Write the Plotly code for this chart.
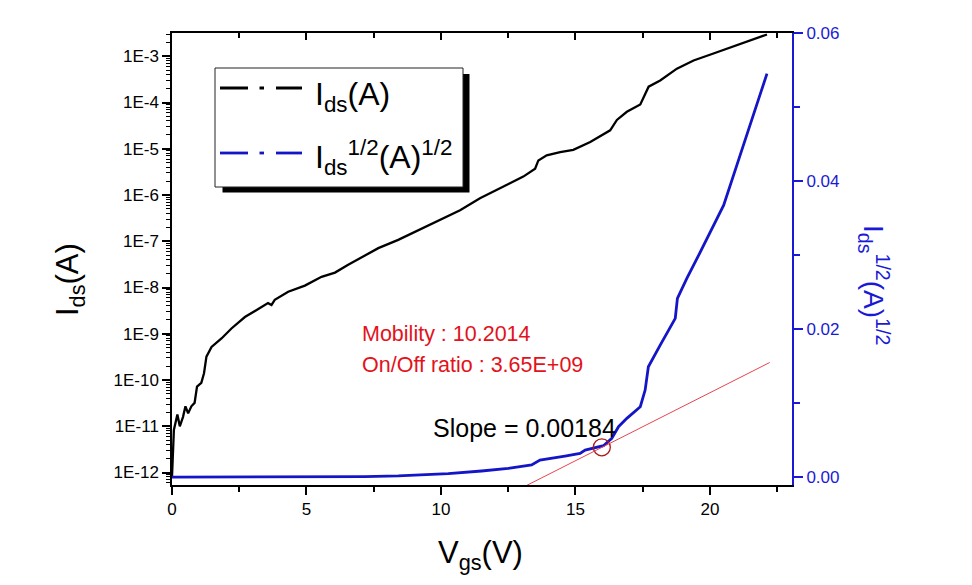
import plotly.graph_objects as go

# ---------------- data ----------------
vgs_ids = [0.0, 0.07, 0.20, 0.29, 0.41, 0.50, 0.60, 0.72, 0.84, 0.93, 1.09, 1.19, 1.28,
           1.47, 1.84, 2.21, 2.71, 3.20, 3.57, 3.70, 3.82, 4.32, 4.94, 5.56, 6.06, 6.55,
           7.17, 7.67, 8.41, 9.96, 10.71, 11.45, 12.19, 13.06, 13.50, 13.62, 13.93, 14.43,
           14.92, 15.55, 16.29, 16.54, 16.91, 17.41, 17.72, 18.15, 18.77, 19.39, 20.13,
           20.88, 21.62, 22.12]
ids = [8e-13, 8.3e-12, 1.8e-11, 1.0e-11, 1.6e-11, 2.7e-11, 1.9e-11, 2.7e-11, 3.2e-11,
       7.2e-11, 8.7e-11, 1.4e-10, 3.2e-10, 5.2e-10, 7.9e-10, 1.3e-9, 2.3e-9, 3.5e-9,
       4.6e-9, 4.2e-9, 5.4e-9, 8.1e-9, 1.1e-8, 1.7e-8, 2.1e-8, 3.1e-8, 5.0e-8, 7.1e-8,
       1.07e-7, 2.9e-7, 4.7e-7, 8.5e-7, 1.4e-6, 2.5e-6, 3.7e-6, 5.6e-6, 7.2e-6, 8.5e-6,
       9.5e-6, 1.4e-5, 2.5e-5, 4.2e-5, 6.3e-5, 9.1e-5, 2.2e-4, 3.0e-4, 5.4e-4, 8.1e-4,
       1.15e-3, 1.66e-3, 2.34e-3, 2.95e-3]

vgs_sqrt = [0.0, 4.0, 4.19, 7.17, 8.41, 10.27, 11.51, 12.5, 13.37, 13.68, 14.61, 15.17,
            15.36, 15.67, 16.04, 16.35, 16.60, 16.91, 17.41, 17.59, 17.71, 18.15, 18.71,
            18.79, 19.14, 19.52, 20.01, 20.51, 21.00, 21.50, 21.87, 22.12]
ids_sqrt = [0.00001, 0.00002, 0.00005, 0.0001, 0.0002, 0.0005, 0.00085, 0.0012, 0.00166,
            0.00233, 0.00287, 0.00324, 0.00368, 0.00391, 0.00427, 0.00526, 0.00683,
            0.00796, 0.00953, 0.01178, 0.01493, 0.01785, 0.02146, 0.02416, 0.02686,
            0.02955, 0.03314, 0.03675, 0.04215, 0.04754, 0.05159, 0.05452]

fit_v = [13.2, 22.22]
fit_y = [-0.00107, 0.0155]
slope_point_v = [15.98]
slope_point_y = [0.00405]

x_ticks = [0, 5, 10, 15, 20]
x_minor = [2.5, 7.5, 12.5, 17.5, 22.5]
y_ticks = [1e-12, 1e-11, 1e-10, 1e-9, 1e-8, 1e-7, 1e-6, 1e-5, 1e-4, 1e-3]
y_ticktext = ["1E-12", "1E-11", "1E-10", "1E-9", "1E-8", "1E-7", "1E-6", "1E-5", "1E-4", "1E-3"]
y2_ticks = [0.0, 0.02, 0.04, 0.06]
y2_ticktext = ["0.00", "0.02", "0.04", "0.06"]
y2_minor = [0.01, 0.03, 0.05]

mobility_text = "Mobility : 10.2014"
onoff_text = "On/Off ratio : 3.65E+09"
slope_text = "Slope = 0.00184"

# ---------------- layout helpers ----------------
W, H = 972, 585
OFF = 8  # page body margin of the browser
L, R, T, B = 172 - OFF, 180 + OFF, 33 - OFF, 100 + OFF
PW, PH = W - L - R, H - T - B
FONT = "Arial, 'Liberation Sans', sans-serif"
BLUE = "#1515c8"
AXBLUE = "#1a1ad6"
RED = "#e3121b"


def px(xp):
    # xp: target pixel in the screenshot
    return (xp - OFF - L) / PW


def py(yp):
    return (H - B - (yp - OFF)) / PH


y_minor = [k * 10.0 ** e for e in range(-13, -2) for k in range(2, 10)]

fig = go.Figure()
fig.add_trace(go.Scatter(x=vgs_ids, y=ids, mode="lines", name="Ids(A)",
                         line=dict(color="black", width=2.3), xaxis="x", yaxis="y",
                         showlegend=False))
fig.add_trace(go.Scatter(x=vgs_sqrt, y=ids_sqrt, mode="lines", name="Ids^1/2",
                         line=dict(color=BLUE, width=2.8), xaxis="x", yaxis="y2",
                         showlegend=False))
fig.add_trace(go.Scatter(x=fit_v, y=fit_y, mode="lines", name="fit",
                         line=dict(color="#e4464f", width=1), xaxis="x2", yaxis="y2",
                         showlegend=False))
fig.add_trace(go.Scatter(x=slope_point_v, y=slope_point_y, mode="markers", name="pt",
                         marker=dict(symbol="circle-open", size=17, color="#b01818",
                                     line=dict(width=1.3, color="#b01818")),
                         xaxis="x", yaxis="y2", showlegend=False))

tickfont = dict(family=FONT, size=17, color="black")
xr = [0, 23.05]
fig.update_layout(
    template="none",
    width=W, height=H, autosize=False,
    margin=dict(l=L, r=R, t=T, b=B, pad=0),
    paper_bgcolor="white", plot_bgcolor="white",
    showlegend=False,
    font=dict(family=FONT),
    xaxis=dict(range=xr, showgrid=False, zeroline=False, showline=True,
               linecolor="black", linewidth=1.5, ticks="outside", ticklen=8,
               tickwidth=1.5, tickcolor="black", tickmode="array", tickvals=x_ticks,
               tickfont=tickfont, automargin=False,
               minor=dict(tickmode="array", tickvals=x_minor, ticks="outside",
                          ticklen=5, tickwidth=1.5, tickcolor="black", showgrid=False)),
    xaxis2=dict(range=xr, overlaying="x", side="top", anchor="y", showgrid=False,
                zeroline=False, showline=True, linecolor="black", linewidth=1.5,
                ticks="inside", ticklen=7, tickwidth=1.5, tickcolor="black",
                tickmode="array", tickvals=x_ticks, showticklabels=False,
                automargin=False,
                minor=dict(tickmode="array", tickvals=x_minor, ticks="inside",
                           ticklen=5, tickwidth=1.5, tickcolor="black", showgrid=False)),
    yaxis=dict(type="log", range=[-12.27, -2.497], showgrid=False, zeroline=False,
               showline=True, linecolor="black", linewidth=1.5, ticks="outside",
               ticklen=8, tickwidth=1.5, tickcolor="black", tickmode="array",
               tickvals=y_ticks, ticktext=y_ticktext, tickfont=tickfont,
               automargin=False,
               minor=dict(tickmode="array", tickvals=y_minor, ticks="outside",
                          ticklen=4, tickwidth=1, tickcolor="black", showgrid=False)),
    yaxis2=dict(range=[-0.00104, 0.06], overlaying="y", side="right", anchor="x",
                showgrid=False, zeroline=False, showline=True, linecolor=AXBLUE,
                linewidth=2, ticks="outside", ticklen=9, tickwidth=1.5,
                tickcolor=AXBLUE, tickmode="array", tickvals=y2_ticks,
                ticktext=y2_ticktext, automargin=False,
                tickfont=dict(family=FONT, size=17, color=AXBLUE),
                minor=dict(tickmode="array", tickvals=y2_minor, ticks="outside",
                           ticklen=6, tickwidth=1.5, tickcolor=AXBLUE, showgrid=False)),
)

# ---------------- legend box (drawn) ----------------
shapes = [
    dict(type="rect", xref="paper", yref="paper", x0=px(222.5), x1=px(469.5),
         y0=py(192.5), y1=py(74), fillcolor="black", line=dict(width=0), layer="above"),
    dict(type="rect", xref="paper", yref="paper", x0=px(215), x1=px(463),
         y0=py(187), y1=py(68), fillcolor="white",
         line=dict(color="#222222", width=1), layer="above"),
]
for yy, col, wd in [(88, "black", 3), (153, BLUE, 2.8)]:
    for a, b in [(220, 248), (259.5, 264), (276, 302)]:
        shapes.append(dict(type="line", xref="paper", yref="paper", x0=px(a), x1=px(b),
                           y0=py(yy), y1=py(yy), line=dict(color=col, width=wd),
                           layer="above"))
fig.update_layout(shapes=shapes)

ann = []
ann.append(dict(text="I<sub>ds</sub>(A)", x=px(313), y=py(96), xref="paper",
                yref="paper", xanchor="left", yanchor="middle", showarrow=False,
                font=dict(family=FONT, size=32, color="black")))
ann.append(dict(text="I<sub>ds</sub><sup>1/2</sup>(A)<sup>1/2</sup>", x=px(313), y=py(157),
                xref="paper", yref="paper", xanchor="left", yanchor="middle",
                showarrow=False, font=dict(family=FONT, size=32, color="black")))
# axis titles
ann.append(dict(text="V<sub>gs</sub>(V)", x=px(480), y=py(555), xref="paper",
                yref="paper", xanchor="center", yanchor="middle", showarrow=False,
                font=dict(family=FONT, size=31, color="black")))
ann.append(dict(text="I<sub>ds</sub>(A)", x=px(70), y=py(280), xref="paper",
                yref="paper", xanchor="center", yanchor="middle", showarrow=False,
                textangle=-90, font=dict(family=FONT, size=31, color="black")))
ann.append(dict(text="I<sub>ds</sub><sup>1/2</sup>(A)<sup>1/2</sup>", x=px(874), y=py(285),
                xref="paper", yref="paper", xanchor="center", yanchor="middle",
                showarrow=False, textangle=90,
                font=dict(family=FONT, size=28, color=AXBLUE)))
# in-plot texts
ann.append(dict(text=mobility_text, x=px(360), y=py(334), xref="paper", yref="paper",
                xanchor="left", yanchor="middle", showarrow=False,
                font=dict(family=FONT, size=21.5, color=RED)))
ann.append(dict(text=onoff_text, x=px(360), y=py(365), xref="paper", yref="paper",
                xanchor="left", yanchor="middle", showarrow=False,
                font=dict(family=FONT, size=21.5, color=RED)))
ann.append(dict(text=slope_text, x=px(431), y=py(428), xref="paper", yref="paper",
                xanchor="left", yanchor="middle", showarrow=False,
                font=dict(family=FONT, size=25, color="black")))
fig.update_layout(annotations=ann)

fig.write_html("out.html")
